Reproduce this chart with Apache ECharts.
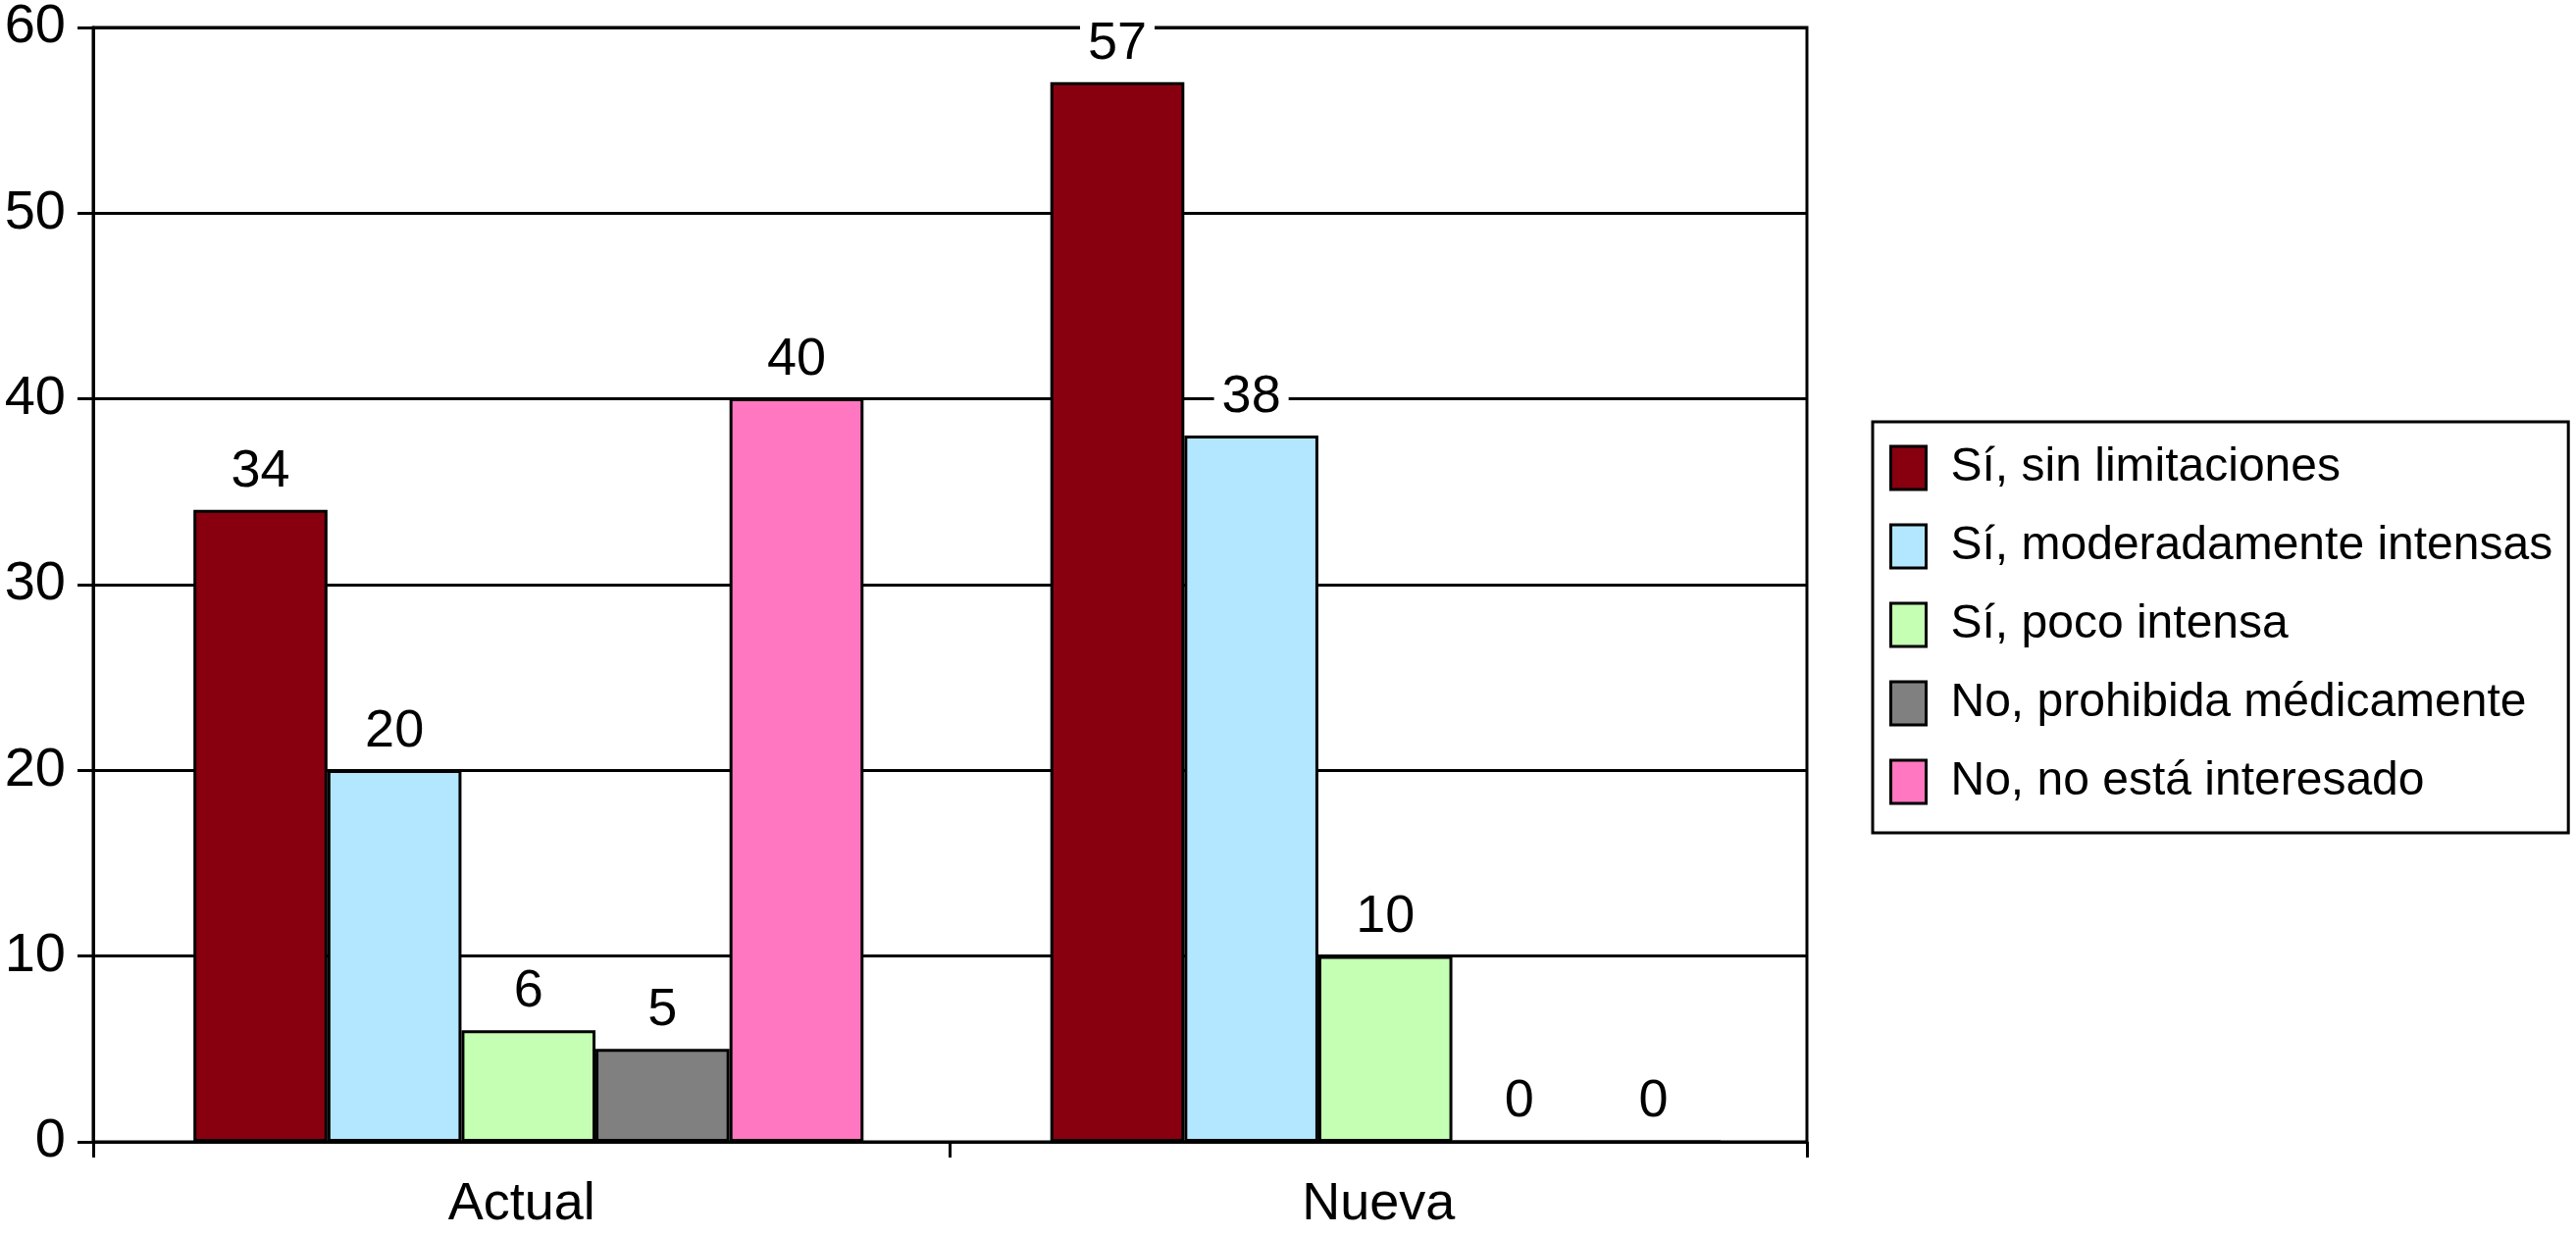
<!DOCTYPE html>
<html>
<head>
<meta charset="utf-8">
<script src="https://cdn.jsdelivr.net/npm/echarts@6/dist/echarts.min.js"></script>
<style>
html, body { margin: 0; padding: 0; background: #fff; }
#chart { width: 2626px; height: 1260px; }
</style>
</head>
<body>
<div id="chart"></div>
<script>
// datos
var categories = ['Actual', 'Nueva']
var seriesNames = [
  'Sí, sin limitaciones',
  'Sí, moderadamente intensas',
  'Sí, poco intensa',
  'No, prohibida médicamente',
  'No, no está interesado'
]
var sinLimitaciones = [34, 57]
var moderadamente = [20, 38]
var pocoIntensa = [6, 10]
var prohibida = [5, 0]
var noInteresado = [40, 0]
var yTicks = { min: 0, max: 60, interval: 10 }

var colors = ['#880010', '#B3E6FF', '#C4FFB4', '#808080', '#FF77C0']
var values = [sinLimitaciones, moderadamente, pocoIntensa, prohibida, noInteresado]
var font = '"Liberation Sans", Arial, Helvetica, sans-serif'

var chart = echarts.init(document.getElementById('chart'))

// las barras van en una segunda rejilla, un poco desplazada a la derecha como en el original
var series = values.map(function(v, i) {
  return {
    name: seriesNames[i],
    type: 'bar',
    xAxisIndex: 1,
    yAxisIndex: 1,
    data: v,
    barGap: '0%',
    barCategoryGap: '21.8%',
    itemStyle: {
      color: colors[i],
      borderColor: '#000',
      borderWidth: 3
    },
    label: {
      show: true,
      position: 'top',
      distance: 10,
      fontSize: 54,
      fontFamily: font,
      color: '#000',
      backgroundColor: '#fff',
      padding: [2, 8]
    }
  }
})

chart.setOption({
  animation: false,
  textStyle: { fontFamily: font },
  grid: [{
    left: 95,
    right: 784,
    top: 27,
    bottom: 96,
    show: true,
    borderColor: '#000',
    borderWidth: 3
  }, {
    left: 102,
    right: 777,
    top: 27,
    bottom: 96
  }],
  legend: {
    orient: 'vertical',
    left: 1909,
    top: 430,
    data: seriesNames,
    icon: 'rect',
    itemWidth: 36,
    itemHeight: 44,
    itemGap: 24,
    padding: [19, 16, 24, 17],
    borderColor: '#000',
    borderWidth: 3,
    backgroundColor: '#fff',
    itemStyle: { borderColor: '#000', borderWidth: 3 },
    textStyle: {
      fontSize: 48,
      fontFamily: font,
      color: '#000',
      lineHeight: 56,
      padding: [0, 0, 0, 20]
    }
  },
  xAxis: [{
    type: 'category',
    gridIndex: 0,
    data: categories,
    axisLine: { lineStyle: { color: '#000', width: 3 } },
    axisTick: { show: true, length: 16, lineStyle: { color: '#000', width: 3 } },
    axisLabel: { fontSize: 54, color: '#000', margin: 37, fontFamily: font }
  }, {
    type: 'category',
    gridIndex: 1,
    data: categories,
    show: false
  }],
  yAxis: [{
    type: 'value',
    gridIndex: 0,
    min: yTicks.min,
    max: yTicks.max,
    interval: yTicks.interval,
    axisLine: { show: true, lineStyle: { color: '#000', width: 3 } },
    axisTick: { show: true, length: 16, lineStyle: { color: '#000', width: 3 } },
    axisLabel: { fontSize: 56, color: '#000', margin: 28, fontFamily: font },
    splitLine: { show: true, lineStyle: { color: '#000', width: 3 } }
  }, {
    type: 'value',
    gridIndex: 1,
    min: yTicks.min,
    max: yTicks.max,
    interval: yTicks.interval,
    show: false,
    splitLine: { show: false }
  }],
  series: series
})
</script>
</body>
</html>
